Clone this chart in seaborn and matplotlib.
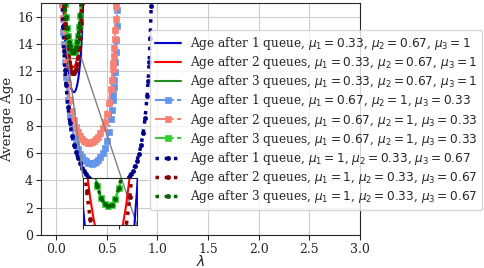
import matplotlib
matplotlib.use("Agg")
import matplotlib.pyplot as plt
import seaborn as sns
from mpl_toolkits.axes_grid1.inset_locator import mark_inset

# arrival rates for the curves limited by mu = 0.33
lam_a = [0.05, 0.06, 0.07, 0.08, 0.09, 0.10, 0.11, 0.12, 0.13, 0.14, 0.15, 0.16,
         0.17, 0.18, 0.19, 0.20, 0.21, 0.22, 0.23, 0.24, 0.25, 0.26, 0.27]
# mu = (0.33, 0.67, 1)
age1_a = [23.08, 19.79, 17.45, 15.73, 14.41, 13.39, 12.58, 11.94, 11.44, 11.06, 10.77, 10.58,
          10.48, 10.46, 10.53, 10.70, 10.98, 11.39, 11.96, 12.72, 13.75, 15.15, 17.07]
age2_a = [24.50, 21.24, 18.93, 17.23, 15.94, 14.95, 14.18, 13.57, 13.10, 12.76, 12.50, 12.35,
          12.29, 12.31, 12.43, 12.64, 12.97, 13.43, 14.05, 14.86, 15.95, 17.41, 19.39]
# age after 3 queues (same for every ordering of the servers)
age3 = [25.45, 22.20, 19.90, 18.22, 16.94, 15.97, 15.20, 14.60, 14.15, 13.82, 13.58, 13.44,
        13.40, 13.43, 13.56, 13.79, 14.13, 14.61, 15.25, 16.08, 17.18, 18.66, 20.66]
# mu = (1, 0.33, 0.67), 2 queues
age2_c = [24.05, 20.79, 18.48, 16.78, 15.49, 14.50, 13.73, 13.12, 12.65, 12.31, 12.05, 11.90,
          11.84, 11.86, 11.98, 12.19, 12.52, 12.98, 13.60, 14.41, 15.50, 16.96, 18.94]

# mu = (0.67, 1, 0.33)
lam_b = [0.04, 0.045, 0.05, 0.055, 0.06, 0.065, 0.07, 0.075, 0.08, 0.09, 0.10,
         0.12, 0.14, 0.16, 0.18, 0.20, 0.22, 0.24, 0.26, 0.28, 0.30, 0.32, 0.34,
         0.36, 0.38, 0.40, 0.42, 0.44, 0.46, 0.48, 0.50, 0.52, 0.54,
         0.55, 0.56, 0.565, 0.57, 0.575, 0.58, 0.585, 0.59, 0.595, 0.60, 0.605, 0.61]
age1_b = [26.51, 23.73, 21.51, 19.69, 18.18, 16.90, 15.80, 14.85, 14.02, 12.64, 11.54,
          9.89, 8.73, 7.86, 7.21, 6.69, 6.29, 5.97, 5.72, 5.53, 5.39, 5.29, 5.24,
          5.23, 5.27, 5.35, 5.49, 5.69, 5.98, 6.36, 6.88, 7.57, 8.53,
          9.15, 9.90, 10.33, 10.81, 11.35, 11.95, 12.64, 13.41, 14.30, 15.32, 16.51, 17.91]
age2_b = [27.55, 24.78, 22.56, 20.75, 19.24, 17.97, 16.88, 15.93, 15.11, 13.74, 12.65,
          11.03, 9.89, 9.05, 8.43, 7.94, 7.57, 7.29, 7.07, 6.92, 6.82, 6.76, 6.76,
          6.79, 6.88, 7.02, 7.21, 7.48, 7.83, 8.28, 8.88, 9.65, 10.70,
          11.37, 12.17, 12.63, 13.14, 13.70, 14.33, 15.05, 15.85, 16.77, 17.82, 19.04, 20.47]

# mu = (1, 0.33, 0.67), 1 queue
lam_c = [0.05, 0.06, 0.07, 0.08, 0.09, 0.10, 0.12, 0.14, 0.16, 0.18, 0.20, 0.22,
         0.24, 0.26, 0.28, 0.30, 0.32, 0.34, 0.36, 0.38, 0.40, 0.42, 0.44, 0.46,
         0.48, 0.50, 0.52, 0.54, 0.56, 0.58, 0.60, 0.62, 0.64, 0.66, 0.68, 0.70,
         0.72, 0.74, 0.76, 0.78, 0.80, 0.82, 0.84, 0.86, 0.88, 0.90, 0.91, 0.92,
         0.93, 0.94, 0.95]
age1_c = [21.00, 17.67, 15.29, 13.51, 12.12, 11.01, 9.35, 8.17, 7.28, 6.60, 6.05, 5.61,
          5.24, 4.94, 4.68, 4.46, 4.28, 4.12, 3.98, 3.86, 3.77, 3.69, 3.62, 3.57,
          3.53, 3.50, 3.49, 3.49, 3.50, 3.53, 3.57, 3.62, 3.70, 3.80, 3.92, 4.06,
          4.24, 4.46, 4.72, 5.05, 5.45, 5.96, 6.60, 7.45, 8.59, 10.21, 11.30, 12.67,
          14.43, 16.79, 20.10]

lab_a = r"$\mu_1 = 0.33$, $\mu_2 = 0.67$, $\mu_3 = 1$"
lab_b = r"$\mu_1 = 0.67$, $\mu_2 = 1$, $\mu_3 = 0.33$"
lab_c = r"$\mu_1 = 1$, $\mu_2 = 0.33$, $\mu_3 = 0.67$"

series = [
    (lam_a, age1_a, "Age after 1 queue, " + lab_a, "mediumblue", "-", None),
    (lam_a, age2_a, "Age after 2 queues, " + lab_a, "red", "-", None),
    (lam_a, age3, "Age after 3 queues, " + lab_a, "forestgreen", "-", None),
    (lam_b, age1_b, "Age after 1 queue, " + lab_b, "cornflowerblue", "-.", "s"),
    (lam_b, age2_b, "Age after 2 queues, " + lab_b, "salmon", "-.", "s"),
    (lam_a, age3, "Age after 3 queues, " + lab_b, "limegreen", "-.", "s"),
    (lam_c, age1_c, "Age after 1 queue, " + lab_c, "darkblue", ":", "o"),
    (lam_a, age2_c, "Age after 2 queues, " + lab_c, "darkred", ":", "o"),
    (lam_a, age3, "Age after 3 queues, " + lab_c, "darkgreen", ":", "o"),
]

sns.set_style("whitegrid", {"axes.edgecolor": "0.15", "xtick.bottom": True,
                            "ytick.left": True, "grid.color": "0.8"})
plt.rcParams["font.family"] = "serif"
plt.rcParams["font.size"] = 9


def draw(ax, with_labels):
    for x, y, lab, col, ls, mk in series:
        kw = dict(color=col, linestyle=ls)
        if ls == "-":
            kw["linewidth"] = 1.5
        elif ls == "-.":
            kw.update(linewidth=1.5, marker=mk, markersize=4.5,
                      markeredgecolor=col, markeredgewidth=0.5)
        else:
            kw.update(linewidth=2.5, marker=mk, markersize=3,
                      markeredgecolor=col, markeredgewidth=0.5)
        sns.lineplot(x=x, y=y, ax=ax, label=lab if with_labels else None,
                     legend=False, **kw)


fig = plt.figure(figsize=(4.84, 2.68), dpi=100)
ax = fig.add_axes([0.084, 0.123, 0.66, 0.866])
draw(ax, True)
ax.set_xlim(-0.15, 3.0)
ax.set_ylim(0, 17)
ax.set_xticks([0.0, 0.5, 1.0, 1.5, 2.0, 2.5, 3.0])
ax.set_yticks(range(0, 17, 2))
ax.set_xlabel(r"$\lambda$", labelpad=-1, fontsize=10)
ax.set_ylabel("Average Age", labelpad=2, fontsize=9.5)
ax.tick_params(length=3.5, width=0.8, pad=2)
ax.legend(loc="upper right", bbox_to_anchor=(0.996, 0.888),
          bbox_transform=fig.transFigure, borderaxespad=0, fontsize=8.7,
          handlelength=2.2, labelspacing=0.18, borderpad=0.4,
          handletextpad=0.7, framealpha=0.8)

axins = fig.add_axes([0.1715, 0.1604, 0.1116, 0.1754])
draw(axins, False)
axins.set_xlim(0.1, 0.25)
axins.set_ylim(13.0, 14.0)
axins.grid(False)
axins.set_xticks([0.1, 0.2])
axins.set_xticklabels([])
axins.set_yticks([])
axins.set_xlabel("")
axins.set_ylabel("")
axins.tick_params(length=3, width=0.8)
mark_inset(ax, axins, loc1=2, loc2=4, fc="none", ec="0.5")

fig.savefig("out.png", dpi=100)
